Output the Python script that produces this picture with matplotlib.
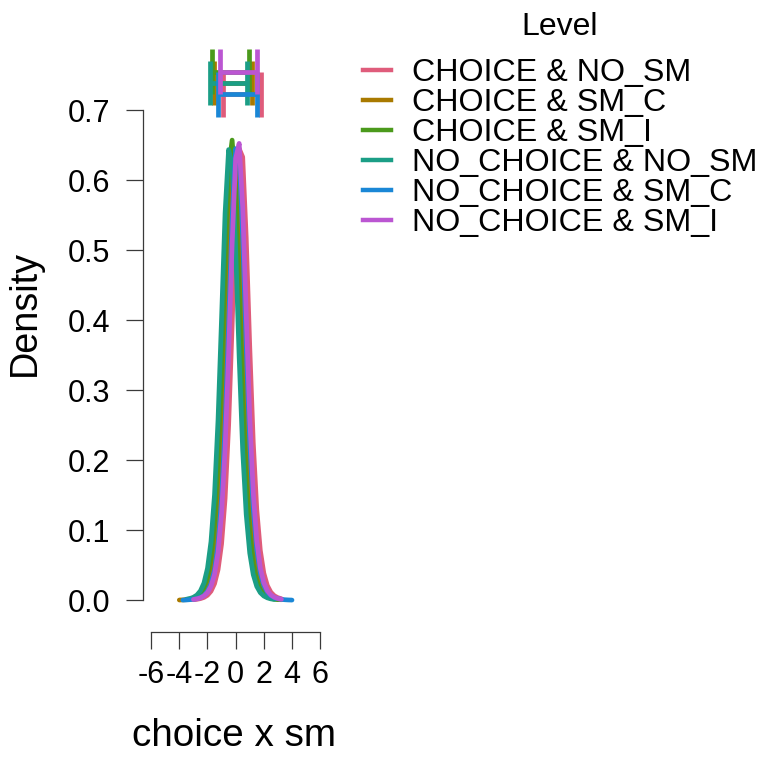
import numpy as np
import matplotlib
matplotlib.use("Agg")
import matplotlib.pyplot as plt
from matplotlib.lines import Line2D

plt.rcParams['font.family'] = ['Liberation Sans', 'DejaVu Sans']
plt.rcParams['axes.unicode_minus'] = False

levels = ["CHOICE & NO_SM", "CHOICE & SM_C", "CHOICE & SM_I",
          "NO_CHOICE & NO_SM", "NO_CHOICE & SM_C", "NO_CHOICE & SM_I"]
colors = ['#DF5C7B', '#A97A00', '#4B9A1C', '#1B9E86', '#1A87D6', '#BB56D2']

x_grid = [-4.25, -4.0, -3.75, -3.5, -3.25, -3.0, -2.75, -2.5, -2.25, -2.0, -1.75,
          -1.5, -1.25, -1.0, -0.75, -0.5, -0.25, 0.0, 0.25, 0.5, 0.75, 1.0, 1.25,
          1.5, 1.75, 2.0, 2.25, 2.5, 2.75, 3.0, 3.25, 3.5, 3.75, 4.0, 4.25]

dens_choice_no_sm = [None, None, None, None, None, 0.0009, 0.0014, 0.0024, 0.0041, 0.0072,
                     0.013, 0.0237, 0.0438, 0.0806, 0.1453, 0.2495, 0.3933, 0.5466, 0.6452,
                     0.6332, 0.518, 0.3623, 0.2252, 0.1296, 0.0714, 0.0387, 0.021, 0.0115,
                     0.0064, 0.0037, 0.0022, None, None, None, None]
dens_choice_sm_c = [None, 0.0004, 0.0006, 0.0009, 0.0015, 0.0025, 0.0043, 0.0076, 0.0136,
                    0.0249, 0.046, 0.0846, 0.1521, 0.2597, 0.4059, 0.5575, 0.6487, 0.6272,
                    0.506, 0.3501, 0.216, 0.1237, 0.068, 0.0368, 0.02, 0.011, 0.0062, 0.0035,
                    0.0021, 0.0012, 0.0008, None, None, None, None]
dens_choice_sm_i = [None, None, None, 0.0012, 0.0019, 0.0032, 0.0057, 0.0101, 0.0183, 0.0336,
                    0.0621, 0.1133, 0.1995, 0.3282, 0.4845, 0.6169, 0.6574, 0.5815, 0.4339,
                    0.2826, 0.1674, 0.0937, 0.051, 0.0276, 0.0151, 0.0083, 0.0047, 0.0027,
                    0.0016, 0.001, None, None, None, None, None]
dens_nochoice_no_sm = [None, None, None, 0.0015, 0.0025, 0.0043, 0.0075, 0.0135, 0.0247,
                       0.0456, 0.0839, 0.1509, 0.2577, 0.4028, 0.5532, 0.6438, 0.6224, 0.5022,
                       0.3474, 0.2143, 0.1227, 0.0675, 0.0366, 0.0198, 0.0109, 0.0061, 0.0035,
                       0.002, 0.0012, None, None, None, None, None, None]
dens_nochoice_sm_c = [None, None, 0.0003, 0.0005, 0.0009, 0.0014, 0.0024, 0.0041, 0.0072,
                      0.013, 0.0237, 0.0438, 0.0806, 0.1453, 0.2495, 0.3933, 0.5466, 0.6452,
                      0.6332, 0.518, 0.3623, 0.2252, 0.1296, 0.0714, 0.0387, 0.021, 0.0115,
                      0.0064, 0.0037, 0.0022, 0.0013, 0.0008, 0.0005, 0.0003, None]
dens_nochoice_sm_i = [None, None, None, None, None, 0.0012, 0.0021, 0.0035, 0.0062, 0.0111,
                      0.0201, 0.0371, 0.0684, 0.1244, 0.2173, 0.3522, 0.5091, 0.631, 0.6527,
                      0.5609, 0.4084, 0.2613, 0.153, 0.0851, 0.0462, 0.025, 0.0137, 0.0076,
                      0.0043, 0.0025, 0.0015, None, None, None, None]
densities = [dens_choice_no_sm, dens_choice_sm_c, dens_choice_sm_i,
             dens_nochoice_no_sm, dens_nochoice_sm_c, dens_nochoice_sm_i]

int_lo = [-0.90, -1.57, -1.69, -1.85, -1.26, -1.08]
int_hi = [1.81, 1.14, 0.97, 0.82, 1.52, 1.49]
int_y = [0.723, 0.739, 0.755, 0.739, 0.723, 0.755]

y_ticks = [0.0, 0.1, 0.2, 0.3, 0.4, 0.5, 0.6, 0.7]
x_ticks = [-6, -4, -2, 0, 2, 4, 6]

W, H = 764, 759
fig = plt.figure(figsize=(W / 100, H / 100), dpi=100)
def fx(px): return px / W
def fy(py): return 1 - py / H

ax = fig.add_axes([fx(142.7), fy(632), (328.6 - 142.7) / W, 630 / H])
ax.set_xlim(-6.6, 6.6)
ax.set_ylim(-0.0453, 0.8547)

xg = np.array(x_grid, dtype=float)
for d, col in zip(densities, colors):
    ax.plot(xg, np.array(d, dtype=float), color=col, lw=3.4,
            solid_capstyle='round', solid_joinstyle='round')

half = 0.032
for lo, hi, yv, col in zip(int_lo, int_hi, int_y, colors):
    ax.plot([lo, hi], [yv, yv], color=col, lw=3.4, solid_capstyle='butt')
    ax.plot([lo, lo], [yv - half, yv + half], color=col, lw=3.4, solid_capstyle='butt')
    ax.plot([hi, hi], [yv - half, yv + half], color=col, lw=3.4, solid_capstyle='butt')

for s in ['top', 'right']:
    ax.spines[s].set_visible(False)
ax.spines['left'].set_bounds(y_ticks[0], y_ticks[-1])
ax.spines['bottom'].set_bounds(x_ticks[0], x_ticks[-1])
for s in ['left', 'bottom']:
    ax.spines[s].set_color('#3a3a3a')
    ax.spines[s].set_linewidth(0.9)
ax.set_yticks(y_ticks)
ax.set_yticklabels([f"{v:.1f}" for v in y_ticks])
ax.set_xticks(x_ticks)
ax.set_xticklabels([str(v) for v in x_ticks])
ax.tick_params(direction='out', length=12, width=0.9, color='#3a3a3a', labelsize=22)
ax.tick_params(axis='y', pad=11.5)
ax.tick_params(axis='x', pad=8)
ax.patch.set_alpha(0)

fig.text(fx(234.5), fy(746), 'choice x sm', ha='center', va='baseline', fontsize=27.8)
fig.text(fx(35), fy(313.3), 'Density', rotation=90, rotation_mode='anchor',
         ha='center', va='baseline', fontsize=27.2)

fig.text(fx(560), fy(35), 'Level', ha='center', va='baseline', fontsize=23)
for i, (lab, col) in enumerate(zip(levels, colors)):
    yc = 70 + 30 * i
    fig.add_artist(Line2D([fx(363), fx(390.7)], [fy(yc), fy(yc)], color=col, lw=3.2,
                          transform=fig.transFigure))
    fig.text(fx(411.7), fy(yc + 11.3), lab, ha='left', va='baseline', fontsize=23.2)

fig.savefig('out.png', dpi=100)
